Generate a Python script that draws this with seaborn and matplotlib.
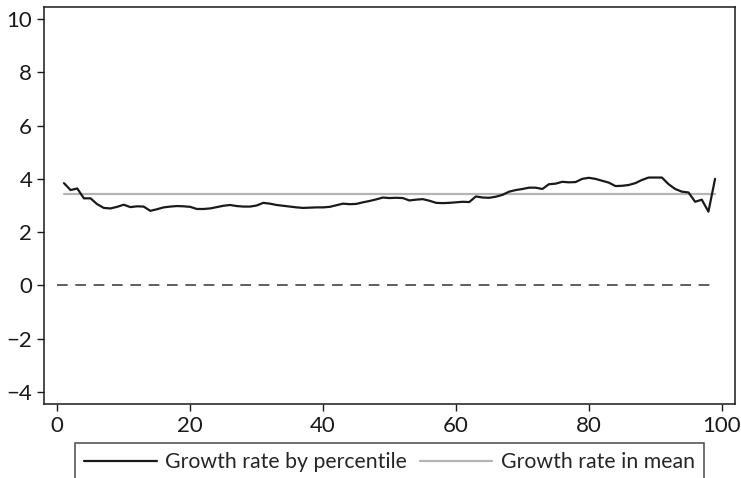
import numpy as np
import pandas as pd
import matplotlib
matplotlib.use('Agg')
import matplotlib.pyplot as plt
import seaborn as sns
from matplotlib.lines import Line2D

# ── Data ──────────────────────────────────────────────────────────────────────
percentiles = list(range(1, 100))
growth_by_pct = [
    3.84, 3.58, 3.64, 3.27, 3.27, 3.05, 2.91, 2.89, 2.95, 3.03,
    2.94, 2.97, 2.96, 2.80, 2.86, 2.93, 2.96, 2.98, 2.97, 2.95,
    2.87, 2.87, 2.89, 2.94, 2.99, 3.02, 2.98, 2.96, 2.96,
    3.00, 3.10, 3.07, 3.02, 2.99, 2.96, 2.93, 2.91, 2.92, 2.93,
    2.93, 2.95, 3.01, 3.07, 3.05, 3.06, 3.12, 3.17, 3.23, 3.30,
    3.28, 3.29, 3.28, 3.19, 3.22, 3.24, 3.18, 3.10, 3.09, 3.10,
    3.12, 3.14, 3.13, 3.34, 3.30, 3.29, 3.33, 3.40, 3.52, 3.58,
    3.62, 3.67, 3.67, 3.62, 3.80, 3.82, 3.89, 3.87, 3.88, 4.00,
    4.04, 4.00, 3.93, 3.86, 3.73, 3.74, 3.77, 3.84, 3.96, 4.05,
    4.05, 4.05, 3.80, 3.62, 3.52, 3.49, 3.14, 3.22, 2.77, 4.00,
]
growth_in_mean = 3.44
zero_line = [0, 99]
x_ticks = [0, 20, 40, 60, 80, 100]
y_ticks = [-4, -2, 0, 2, 4, 6, 8, 10]
series_labels = ['Growth rate by percentile', 'Growth rate in mean']

df = pd.DataFrame({
    'Percentile': percentiles * 2,
    'Growth': growth_by_pct + [growth_in_mean] * len(percentiles),
    'Series': [series_labels[0]] * len(percentiles) + [series_labels[1]] * len(percentiles),
})

# ── Style ─────────────────────────────────────────────────────────────────────
sns.set_style('ticks')
plt.rcParams['font.family'] = ['Lato', 'DejaVu Sans']
plt.rcParams['axes.linewidth'] = 1.1
plt.rcParams['xtick.major.width'] = 1.0
plt.rcParams['ytick.major.width'] = 1.0

fig = plt.figure(figsize=(7.41, 4.78), dpi=100)
ax = fig.add_axes([0.0594, 0.1548, 0.9325, 0.8305])

# dashed zero line
ax.plot(zero_line, [0, 0], color='#333333', lw=1.1, ls=(0, (7, 5)), zorder=1)

sns.lineplot(
    data=df, x='Percentile', y='Growth', hue='Series',
    hue_order=[series_labels[1], series_labels[0]],
    palette={series_labels[0]: '#1a1a1a', series_labels[1]: '#b4b4b4'},
    linewidth=1.6, ax=ax, legend=False,
)

ax.set_xlim(-2, 102)
ax.set_ylim(-4.45, 10.45)
ax.set_xticks(x_ticks)
ax.set_yticks(y_ticks)
ax.set_xlabel('')
ax.set_ylabel('')
ax.tick_params(axis='both', direction='out', length=5, labelsize=16, colors='#1a1a1a')
for s in ax.spines.values():
    s.set_visible(True)
    s.set_color('#1a1a1a')

# legend below the axes
handles = [
    Line2D([], [], color='#1a1a1a', lw=1.6),
    Line2D([], [], color='#b4b4b4', lw=1.6),
]
leg = ax.legend(
    handles, series_labels, loc='upper center', bbox_to_anchor=(0.5, -0.098),
    ncol=2, frameon=True, fancybox=False, fontsize=15.3, handlelength=3.4,
    handletextpad=0.4, columnspacing=0.6, borderpad=0.45, borderaxespad=0,
)
leg.get_frame().set_edgecolor('#1a1a1a')
leg.get_frame().set_linewidth(1.1)

fig.savefig('out.png', dpi=100)
